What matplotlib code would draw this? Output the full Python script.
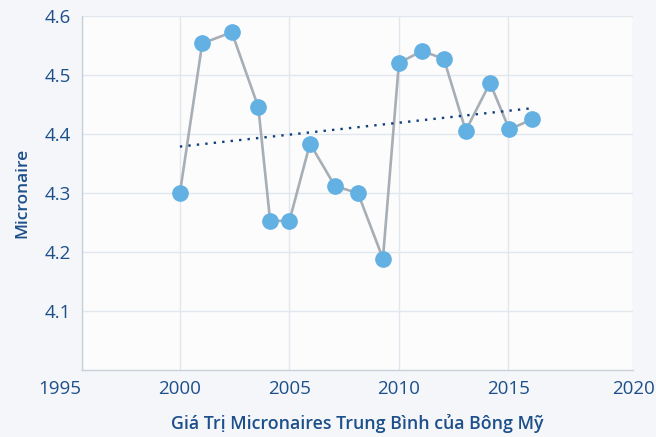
import matplotlib
matplotlib.use("Agg")
import matplotlib.pyplot as plt
from matplotlib.transforms import ScaledTranslation

# year and mean micronaire of US cotton
YEARS = [2000.0, 2001.02, 2002.37, 2003.58, 2004.12, 2005.0, 2005.94, 2007.08, 2008.13,
         2009.27, 2010.0, 2011.05, 2012.05, 2013.05, 2014.16, 2015.04, 2016.06]
MIC = [4.300, 4.554, 4.573, 4.446, 4.253, 4.253, 4.384, 4.312, 4.300,
       4.189, 4.521, 4.541, 4.528, 4.406, 4.487, 4.408, 4.425]
TREND_X = [2000.0, 2016.06]
TREND_Y = [4.379, 4.444]
XLIM = (1995.53, 2020.69)
XTICKS = [XLIM[0], 2000, 2005, 2010, 2015, XLIM[1]]
XTICKLABELS = ["1995", "2000", "2005", "2010", "2015", "2020"]
YTICKS = [4.1, 4.2, 4.3, 4.4, 4.5, 4.6]

INK = "#1d4f8a"; GRID = "#e2e7ed"; BG = "#f4f6f9"
plt.rcParams.update({"font.family": ["Open Sans", "DejaVu Sans"]})

fig = plt.figure(figsize=(6.56, 4.37), dpi=100, facecolor=BG)
ax = fig.add_axes([0.125, 0.1533, 0.84, 0.8094])
ax.set_facecolor("#fcfcfd")

ax.plot(YEARS, MIC, color="#a7aeb5", lw=1.9, zorder=2)
ax.plot(YEARS, MIC, "o", ms=11, color="#63b0e3", zorder=3)
ax.plot(TREND_X, TREND_Y, color="#0f3f7a", lw=1.7, ls=(0, (1, 2.6)), zorder=4)

ax.set_xlim(*XLIM); ax.set_ylim(4.0, 4.6)
ax.set_xticks(XTICKS, XTICKLABELS)
ax.set_yticks(YTICKS)
ax.tick_params(length=0, labelsize=13.5, labelcolor=INK)
ax.tick_params(axis="y", pad=8)
ax.tick_params(axis="x", pad=7)
ax.grid(True, color=GRID, lw=1)
ax.set_axisbelow(True)
for s in ["top", "right"]:
    ax.spines[s].set_visible(False)
for s in ["left", "bottom"]:
    ax.spines[s].set_color("#c9d0d7"); ax.spines[s].set_linewidth(1)
# first year label sits left of the axis in the original
first = ax.get_xticklabels()[0]
first.set_transform(first.get_transform() + ScaledTranslation(-0.22, 0, fig.dpi_scale_trans))

ax.set_xlabel("Giá Trị Micronaires Trung Bình của Bông Mỹ", fontsize=12.8,
              fontweight="semibold", color=INK, labelpad=12)
ax.set_ylabel("Micronaire", fontsize=12.5, fontweight="semibold", color=INK, labelpad=10)

fig.savefig("out.png", facecolor=BG)
